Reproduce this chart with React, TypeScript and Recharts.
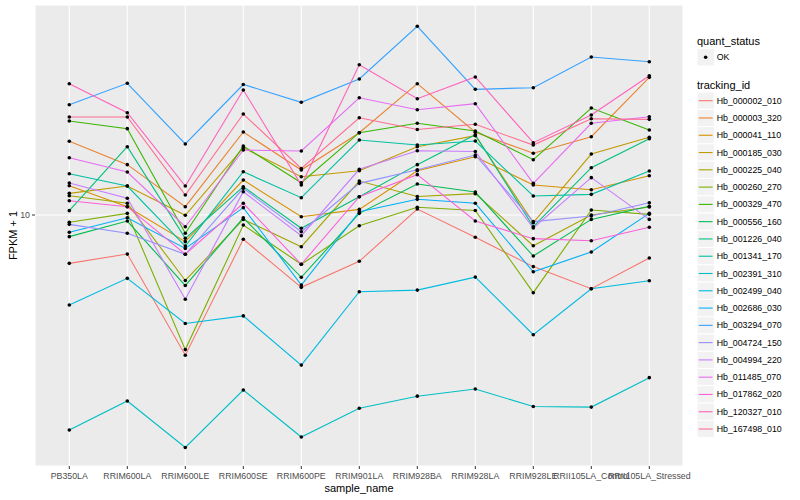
import React from "react";
import { LineChart, Line, XAxis, YAxis, CartesianGrid } from "recharts";

// sample order on the x axis
const samples = [
  "PB350LA",
  "RRIM600LA",
  "RRIM600LE",
  "RRIM600SE",
  "RRIM600PE",
  "RRIM901LA",
  "RRIM928BA",
  "RRIM928LA",
  "RRIM928LE",
  "RRII105LA_Control",
  "RRII105LA_Stressed",
];

const trackingIds = [
  "Hb_000002_010",
  "Hb_000003_320",
  "Hb_000041_110",
  "Hb_000185_030",
  "Hb_000225_040",
  "Hb_000260_270",
  "Hb_000329_470",
  "Hb_000556_160",
  "Hb_001226_040",
  "Hb_001341_170",
  "Hb_002391_310",
  "Hb_002499_040",
  "Hb_002686_030",
  "Hb_003294_070",
  "Hb_004724_150",
  "Hb_004994_220",
  "Hb_011485_070",
  "Hb_017862_020",
  "Hb_120327_010",
  "Hb_167498_010",
];

// FPKM + 1 per sample
const hb000002_010 = [6.9, 7.41, 3.41, 8.3, 5.74, 7.01, 10.47, 8.43, 6.73, 5.68, 7.19];
const hb000003_320 = [17.61, 14.72, 10.66, 18.91, 14.13, 18.81, 27.4, 18.87, 16.06, 18.24, 28.77];
const hb000041_110 = [12.52, 10.66, 8.15, 13.08, 9.87, 10.44, 14.05, 15.64, 12.59, 12.14, 13.52];
const hb000185_030 = [11.81, 12.49, 9.98, 16.76, 13.42, 14.05, 16.89, 18.38, 9.43, 15.97, 18.16];
const hb000225_040 = [11.59, 10.94, 6.05, 9.67, 7.84, 12.98, 11.53, 11.78, 7.9, 10.0, 10.63];
const hb000260_270 = [9.46, 10.13, 3.56, 9.26, 6.85, 9.21, 10.61, 10.35, 5.51, 10.39, 10.05];
const hb000329_470 = [20.58, 19.4, 8.69, 16.98, 12.81, 18.81, 20.22, 19.05, 15.29, 22.73, 19.2];
const hb000556_160 = [8.47, 9.55, 5.82, 9.79, 6.2, 10.13, 12.69, 11.93, 7.3, 9.67, 10.69];
const hb001226_040 = [10.34, 16.89, 8.36, 12.43, 9.03, 11.51, 14.72, 18.52, 9.14, 14.38, 17.96];
const hb001341_170 = [13.73, 12.49, 7.88, 13.94, 11.42, 17.78, 17.11, 17.65, 11.57, 11.72, 14.02];
const hb002391_310 = [1.92, 2.4, 1.68, 2.61, 1.82, 2.27, 2.49, 2.63, 2.3, 2.29, 2.87];
const hb002499_040 = [5.01, 6.15, 4.35, 4.61, 3.16, 5.55, 5.62, 6.21, 3.99, 5.68, 6.04];
const hb002686_030 = [8.76, 9.79, 7.74, 10.58, 5.84, 10.26, 11.28, 10.94, 6.47, 7.53, 10.13];
const hb003294_070 = [23.31, 27.48, 17.25, 27.23, 23.75, 28.4, 42.56, 26.24, 26.57, 33.63, 32.43];
const hb004724_150 = [9.31, 8.69, 7.4, 12.27, 8.8, 12.75, 14.16, 15.85, 9.51, 9.92, 10.99];
const hb004994_220 = [12.78, 11.37, 5.24, 11.96, 8.53, 14.2, 16.38, 16.28, 9.05, 13.32, 9.67];
const hb011485_070 = [15.52, 13.91, 9.14, 16.47, 16.35, 24.6, 22.44, 23.5, 12.75, 20.22, 21.27];
const hb017862_020 = [11.16, 10.66, 7.4, 10.94, 6.85, 11.51, 13.63, 9.55, 8.34, 8.21, 9.1];
const hb120327_010 = [27.4, 21.93, 12.49, 26.1, 12.59, 31.7, 24.42, 28.84, 17.42, 21.54, 29.13];
const hb167498_010 = [21.22, 21.22, 11.66, 21.71, 14.29, 21.1, 19.28, 20.06, 17.11, 20.94, 20.84];

const series = [
  hb000002_010, hb000003_320, hb000041_110, hb000185_030, hb000225_040,
  hb000260_270, hb000329_470, hb000556_160, hb001226_040, hb001341_170,
  hb002391_310, hb002499_040, hb002686_030, hb003294_070, hb004724_150,
  hb004994_220, hb011485_070, hb017862_020, hb120327_010, hb167498_010,
];

// ggplot hue palette, 20 levels
const COLORS = [
  "#F8766D", "#EA8331", "#D89000", "#C09B00", "#A3A500",
  "#7CAE00", "#39B600", "#00BB4E", "#00BF7D", "#00C1A3",
  "#00BFC4", "#00BAE0", "#00B0F6", "#35A2FF", "#9590FF",
  "#C77CFF", "#E76BF3", "#FA62DB", "#FF62BC", "#FF6C91",
];

const data = samples.map((sample, i) => {
  const row: Record<string, string | number> = { sample };
  trackingIds.forEach((id, j) => {
    row[id] = series[j][i];
  });
  return row;
});

const FONT = '"Liberation Sans", Arial, Helvetica, sans-serif';

function Overlay() {
  const keyX = 697;
  const keyW = 17.3;
  const firstKey = 100.7;
  const step = 17.28;
  return (
    <svg
      width={800}
      height={500}
      style={{ position: "absolute", left: 0, top: 0, pointerEvents: "none" }}
      fontFamily={FONT}
    >
      <text x={13} y={235.5} fontSize={11} textAnchor="middle" dominantBaseline="central" transform="rotate(-90 13 235.5)">
        FPKM + 1
      </text>
      <text x={359} y={488} fontSize={11} textAnchor="middle" dominantBaseline="central">
        sample_name
      </text>

      <text x={keyX} y={40.7} fontSize={11} dominantBaseline="central">quant_status</text>
      <rect x={keyX} y={57.3 - keyW / 2} width={keyW} height={keyW} fill="#F2F2F2" stroke="#FFFFFF" />
      <circle cx={keyX + keyW / 2} cy={57.3} r={1.8} fill="#000" />
      <text x={716.7} y={57.3} fontSize={8.8} dominantBaseline="central">OK</text>

      <text x={keyX} y={84.7} fontSize={11} dominantBaseline="central">tracking_id</text>
      {trackingIds.map((id, i) => {
        const cy = firstKey + i * step;
        return (
          <g key={id}>
            <rect x={keyX} y={cy - keyW / 2} width={keyW} height={keyW} fill="#F2F2F2" stroke="#FFFFFF" />
            <line x1={keyX + 1.7} x2={keyX + keyW - 1.7} y1={cy} y2={cy} stroke={COLORS[i]} strokeWidth={1.1} />
            <text x={716.7} y={cy} fontSize={8.8} dominantBaseline="central">{id}</text>
          </g>
        );
      })}
    </svg>
  );
}

export default function App() {
  return (
    <div style={{ position: "absolute", left: 0, top: 0, width: 800, height: 500, background: "#fff", fontFamily: FONT }}>
      <LineChart width={800} height={500} data={data} margin={{ top: 5, right: 117, bottom: 0, left: 0 }}>
        <CartesianGrid fill="#EBEBEB" fillOpacity={1} stroke="#FFFFFF" strokeWidth={1.1} />
        <XAxis
          dataKey="sample"
          interval={0}
          padding={{ left: 34.3, right: 33.7 }}
          height={34}
          axisLine={false}
          tickLine={{ stroke: "#333333" }}
          tickSize={3}
          tickMargin={4}
          tick={{ fontSize: 8.8, fill: "#4D4D4D" }}
        />
        <YAxis
          scale="log"
          domain={[1.457, 50.12]}
          allowDataOverflow
          ticks={[10]}
          width={35}
          axisLine={false}
          tickLine={{ stroke: "#333333" }}
          tickSize={3}
          tick={{ fontSize: 8.8, fill: "#4D4D4D" }}
        />
        {trackingIds.map((id, i) => (
          <Line
            key={id}
            dataKey={id}
            stroke={COLORS[i]}
            strokeWidth={1.1}
            dot={false}
            activeDot={false}
            isAnimationActive={false}
          />
        ))}
        {trackingIds.map((id) => (
          <Line
            key={id + "-pts"}
            dataKey={id}
            stroke="none"
            dot={{ r: 1.8, fill: "#000000", stroke: "none" }}
            activeDot={false}
            isAnimationActive={false}
          />
        ))}
      </LineChart>
      <Overlay />
    </div>
  );
}
